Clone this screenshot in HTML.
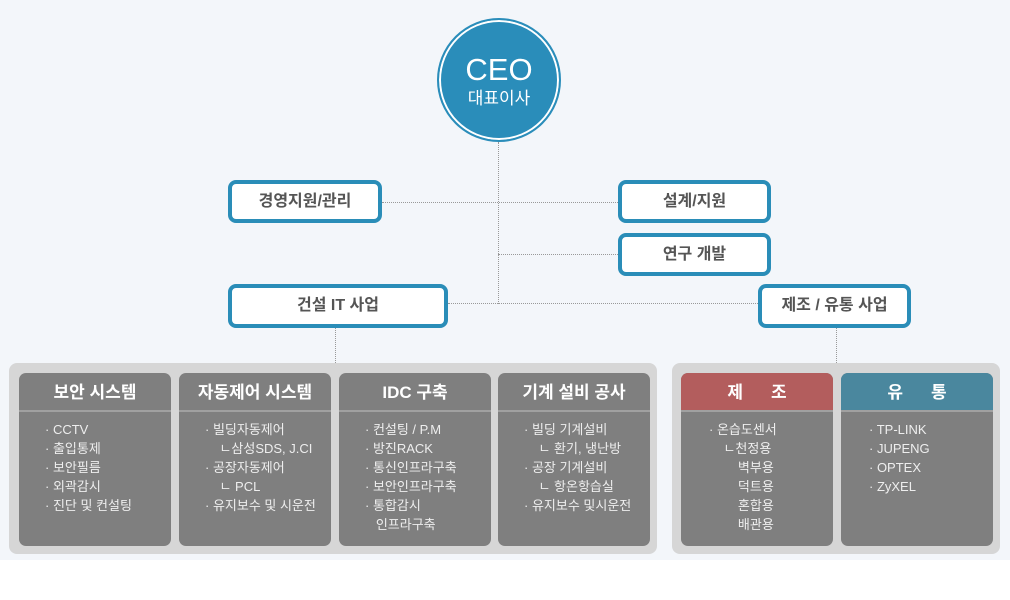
<!DOCTYPE html>
<html><head><meta charset="utf-8"><style>
*{margin:0;padding:0;box-sizing:border-box}
body{width:1010px;height:600px;background:#fff;font-family:"Liberation Sans","Noto Sans CJK KR",sans-serif;position:relative;overflow:hidden}
.bg{position:absolute;left:0;top:0;width:1010px;height:560px;background:#f3f6fa}
.abs{position:absolute}
.circle{left:437px;top:18px;width:124px;height:124px;border-radius:50%;background:#2a8dba;border:2px solid #2a8dba;box-shadow:inset 0 0 0 2px #fff;color:#fff;text-align:center}
.circle .t1{font-size:31px;margin-top:33px;line-height:34px}
.circle .t2{font-size:17px;line-height:24px}
.box{border:4px solid #2a8db8;border-radius:8px;background:#fff;color:#555;font-weight:bold;font-size:16px;text-align:center;line-height:35px}
.hl{border-top:1px dotted #999;height:0}
.vl{border-left:1px dotted #999;width:0}
.cont{background:#d6d6d6;border-radius:8px}
.card{background:#7f7f7f;border-radius:7px;width:152px;height:173px;top:373px;overflow:hidden}
.card .h{height:39px;line-height:39px;text-align:center;color:#fff;font-weight:bold;font-size:17px;border-bottom:2px solid #a0a0a0}
.card .b{color:#eee;font-size:13px;line-height:19px;padding-top:8px}
</style></head><body>
<div class="bg"></div>
<div class="abs vl" style="left:498px;top:142px;height:162px"></div>
<div class="abs hl" style="left:382px;top:202px;width:236px"></div>
<div class="abs hl" style="left:498px;top:254px;width:120px"></div>
<div class="abs hl" style="left:448px;top:303px;width:310px"></div>
<div class="abs vl" style="left:335px;top:327px;height:36px"></div>
<div class="abs vl" style="left:836px;top:327px;height:36px"></div>
<div class="abs circle"><div class="t1">CEO</div><div class="t2">대표이사</div></div>
<div class="abs box" style="left:228px;top:180px;width:154px;height:43px">경영지원/관리</div>
<div class="abs box" style="left:618px;top:180px;width:153px;height:43px">설계/지원</div>
<div class="abs box" style="left:618px;top:233px;width:153px;height:43px">연구 개발</div>
<div class="abs box" style="left:228px;top:284px;width:220px;height:44px">건설 IT 사업</div>
<div class="abs box" style="left:758px;top:284px;width:153px;height:44px">제조 / 유통 사업</div>
<div class="abs cont" style="left:9px;top:363px;width:648px;height:191px"></div>
<div class="abs cont" style="left:672px;top:363px;width:328px;height:191px"></div>
<div class="abs card" style="left:19px"><div class="h">보안 시스템</div><div class="b" style="padding-left:26px">· CCTV<br>· 출입통제<br>· 보안필름<br>· 외곽감시<br>· 진단 및 컨설팅</div></div>
<div class="abs card" style="left:179px"><div class="h">자동제어 시스템</div><div class="b" style="padding-left:26px">· 빌딩자동제어<br>&nbsp;&nbsp;&nbsp;&nbsp;ㄴ삼성SDS, J.CI<br>· 공장자동제어<br>&nbsp;&nbsp;&nbsp;&nbsp;ㄴ PCL<br>· 유지보수 및 시운전</div></div>
<div class="abs card" style="left:339px"><div class="h">IDC 구축</div><div class="b" style="padding-left:26px">· 컨설팅 / P.M<br>· 방진RACK<br>· 통신인프라구축<br>· 보안인프라구축<br>· 통합감시<br>&nbsp;&nbsp;&nbsp;인프라구축</div></div>
<div class="abs card" style="left:498px"><div class="h">기계 설비 공사</div><div class="b" style="padding-left:26px">· 빌딩 기계설비<br>&nbsp;&nbsp;&nbsp;&nbsp;ㄴ 환기, 냉난방<br>· 공장 기계설비<br>&nbsp;&nbsp;&nbsp;&nbsp;ㄴ 항온항습실<br>· 유지보수 및시운전</div></div>
<div class="abs card" style="left:681px"><div class="h" style="background:#b35d5d;letter-spacing:28px;text-indent:28px">제조</div><div class="b" style="padding-left:28px">· 온습도센서<br>&nbsp;&nbsp;&nbsp;&nbsp;ㄴ천정용<br>&nbsp;&nbsp;&nbsp;&nbsp;&nbsp;&nbsp;&nbsp;&nbsp;벽부용<br>&nbsp;&nbsp;&nbsp;&nbsp;&nbsp;&nbsp;&nbsp;&nbsp;덕트용<br>&nbsp;&nbsp;&nbsp;&nbsp;&nbsp;&nbsp;&nbsp;&nbsp;혼합용<br>&nbsp;&nbsp;&nbsp;&nbsp;&nbsp;&nbsp;&nbsp;&nbsp;배관용</div></div>
<div class="abs card" style="left:841px"><div class="h" style="background:#4a879e;letter-spacing:28px;text-indent:28px">유통</div><div class="b" style="padding-left:28px">· TP-LINK<br>· JUPENG<br>· OPTEX<br>· ZyXEL</div></div>
</body></html>
